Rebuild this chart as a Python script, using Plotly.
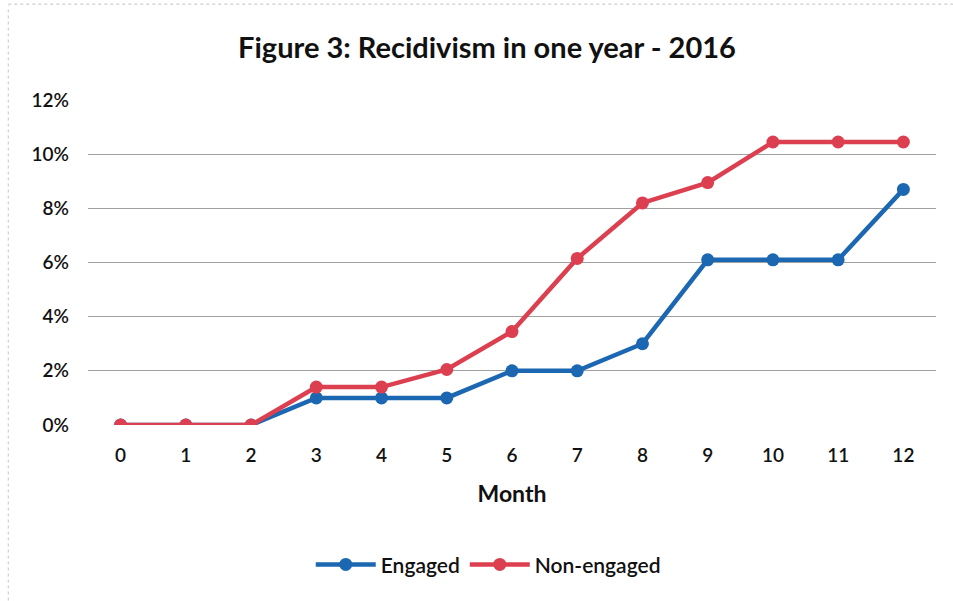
import plotly.graph_objects as go

# Recidivism within one year of release, by month (share of cohort, %)
months = list(range(13))
engaged = [0, 0, 0, 1.0, 1.0, 1.0, 2.0, 2.0, 3.0, 6.1, 6.1, 6.1, 8.7]
non_engaged = [0, 0, 0, 1.4, 1.4, 2.05, 3.45, 6.15, 8.2, 8.95, 10.45, 10.45, 10.45]
y_ticks = [0, 2, 4, 6, 8, 10, 12]
y_tick_labels = [f"{v}%" for v in y_ticks]

BLUE = "#1c67b2"
RED = "#dc4050"
FONT = "Lato"

fig = go.Figure()
fig.add_trace(go.Scatter(
    x=months, y=engaged, name="Engaged", mode="lines+markers",
    line=dict(color=BLUE, width=4.5), marker=dict(size=13, color=BLUE),
))
fig.add_trace(go.Scatter(
    x=months, y=non_engaged, name="Non-engaged", mode="lines+markers",
    line=dict(color=RED, width=4.5), marker=dict(size=13, color=RED),
))

fig.update_layout(
    width=953, height=601,
    margin=dict(l=88, r=17, t=100, b=176),
    paper_bgcolor="white", plot_bgcolor="white",
    title=dict(
        text="<b>Figure 3: Recidivism in one year - 2016</b>",
        x=0.511, xanchor="center", y=0.92, yanchor="middle",
        font=dict(family=FONT, size=29, color="#111111"),
    ),
    font=dict(family=FONT, color="#111111"),
    showlegend=True,
    legend=dict(
        orientation="h", x=0.472, xanchor="center", y=-0.43, yanchor="middle",
        font=dict(family=FONT, size=21, color="#111111", weight=600),
        itemwidth=60,
    ),
    xaxis=dict(
        tickmode="array", tickvals=months, ticktext=[str(m) for m in months],
        range=[-0.5, 12.5], showgrid=False, zeroline=False, showline=False,
        tickfont=dict(size=19, weight=600), ticks="", ticklabelstandoff=17,
        title=dict(text="<b>Month</b>", font=dict(size=23), standoff=20),
    ),
    yaxis=dict(
        tickmode="array", tickvals=y_ticks, ticktext=y_tick_labels,
        range=[0, 12], showgrid=True, gridcolor="#a0a0a0", gridwidth=1,
        zeroline=False, showline=False, ticks="",
        tickfont=dict(size=19, weight=600), ticklabelstandoff=18,
    ),
)

# Faint page edges around the chart frame
fig.add_shape(type="line", xref="paper", yref="paper", x0=-0.094, x1=1.02,
              y0=1.295, y1=1.295, line=dict(color="#c0c0c0", width=1, dash="dot"))
fig.add_shape(type="line", xref="paper", yref="paper", x0=-0.094, x1=-0.094,
              y0=-0.54, y1=1.29, line=dict(color="#c8c8c8", width=1, dash="dot"))

fig.write_html("out.html")
